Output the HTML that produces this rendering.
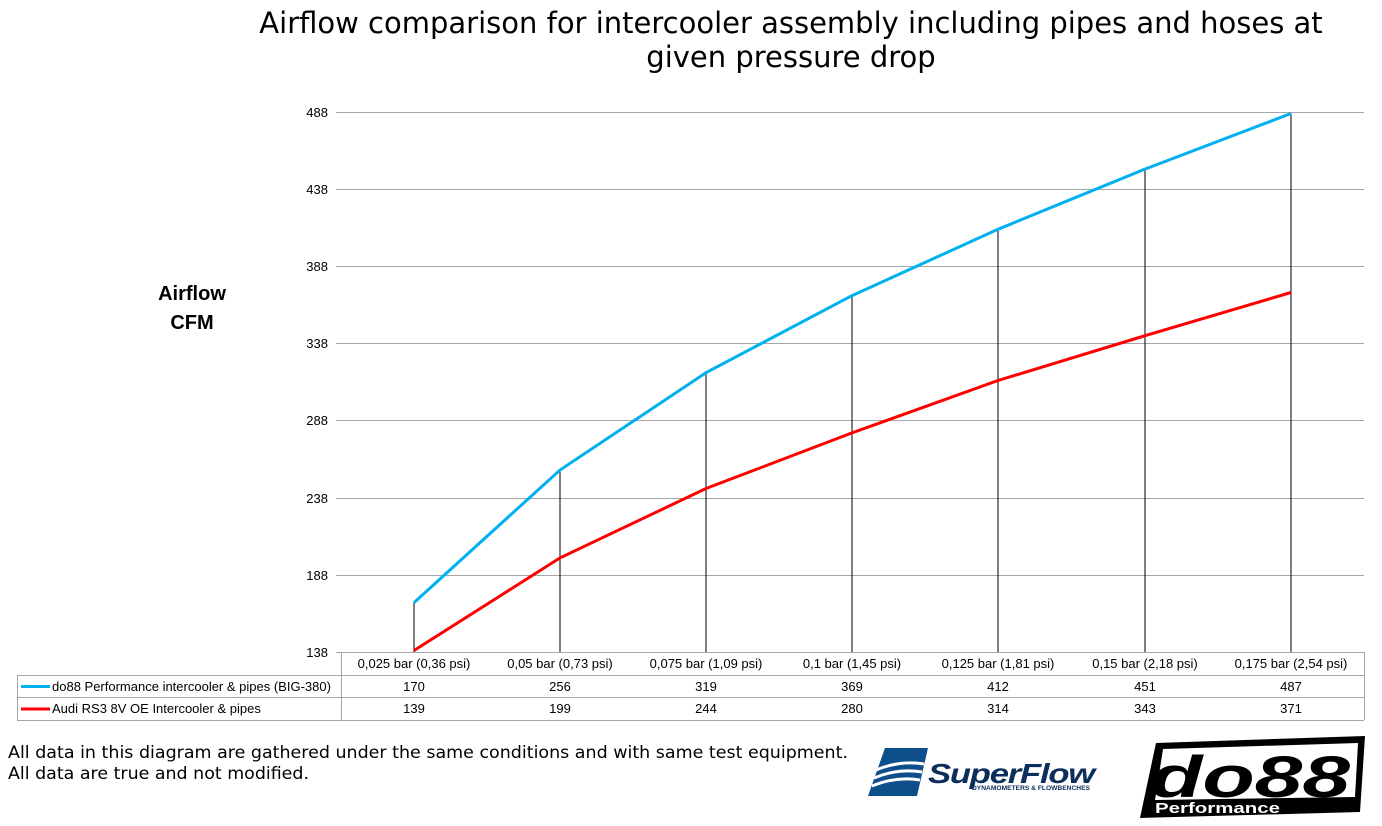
<!DOCTYPE html>
<html><head><meta charset="utf-8"><style>body{margin:0;background:#fff}svg{display:block}</style></head><body>
<svg width="1382" height="826" xmlns="http://www.w3.org/2000/svg" font-family="Liberation Sans, DejaVu Sans, sans-serif">
<text x="791" y="33" font-size="29" text-anchor="middle" fill="#000" font-family="DejaVu Sans, sans-serif">Airflow comparison for intercooler assembly including pipes and hoses at</text>
<text x="791" y="67" font-size="29" text-anchor="middle" fill="#000" font-family="DejaVu Sans, sans-serif">given pressure drop</text>
<text x="192" y="300" font-size="20" font-weight="bold" text-anchor="middle">Airflow</text>
<text x="192" y="329" font-size="20" font-weight="bold" text-anchor="middle">CFM</text>
<g stroke="#a6a6a6" stroke-width="1">
<line x1="336" y1="112.5" x2="1364" y2="112.5"/><line x1="336" y1="189.5" x2="1364" y2="189.5"/><line x1="336" y1="266.5" x2="1364" y2="266.5"/><line x1="336" y1="343.5" x2="1364" y2="343.5"/><line x1="336" y1="420.5" x2="1364" y2="420.5"/><line x1="336" y1="498.5" x2="1364" y2="498.5"/><line x1="336" y1="575.5" x2="1364" y2="575.5"/><line x1="336" y1="652.5" x2="1364" y2="652.5"/>
<line x1="341.5" y1="652" x2="341.5" y2="720"/>
<line x1="1364.5" y1="652" x2="1364.5" y2="720"/>
<line x1="17" y1="675.5" x2="1364" y2="675.5"/><line x1="17" y1="697.5" x2="1364" y2="697.5"/><line x1="17" y1="720.5" x2="1364" y2="720.5"/>
<line x1="17.5" y1="675" x2="17.5" y2="720"/>
</g>
<g font-size="13" text-anchor="end" fill="#000">
<text x="328" y="117">488</text><text x="328" y="194">438</text><text x="328" y="271">388</text><text x="328" y="348">338</text><text x="328" y="425">288</text><text x="328" y="503">238</text><text x="328" y="580">188</text><text x="328" y="657">138</text>
</g>
<g stroke="#000" stroke-width="1">
<line x1="414" y1="602.6" x2="414" y2="652"/><line x1="560" y1="470" x2="560" y2="652"/><line x1="706" y1="372.7" x2="706" y2="652"/><line x1="852" y1="295.6" x2="852" y2="652"/><line x1="998" y1="229.3" x2="998" y2="652"/><line x1="1145" y1="169.1" x2="1145" y2="652"/><line x1="1291" y1="113.5" x2="1291" y2="652"/>
</g>
<polyline fill="none" stroke="#00b0f0" stroke-width="3" points="414,602.6 560,470 706,372.7 852,295.6 998,229.3 1145,169.1 1291,113.5"/>
<polyline fill="none" stroke="#ff0000" stroke-width="3" points="414,650.5 560,557.9 706,488.5 852,432.9 998,380.5 1145,335.7 1291,292.5"/>
<g font-size="13" text-anchor="middle" fill="#000">
<text x="414" y="668">0,025 bar (0,36 psi)</text><text x="560" y="668">0,05 bar (0,73 psi)</text><text x="706" y="668">0,075 bar (1,09 psi)</text><text x="852" y="668">0,1 bar (1,45 psi)</text><text x="998" y="668">0,125 bar (1,81 psi)</text><text x="1145" y="668">0,15 bar (2,18 psi)</text><text x="1291" y="668">0,175 bar (2,54 psi)</text>
<text x="414" y="691">170</text><text x="560" y="691">256</text><text x="706" y="691">319</text><text x="852" y="691">369</text><text x="998" y="691">412</text><text x="1145" y="691">451</text><text x="1291" y="691">487</text>
<text x="414" y="713">139</text><text x="560" y="713">199</text><text x="706" y="713">244</text><text x="852" y="713">280</text><text x="998" y="713">314</text><text x="1145" y="713">343</text><text x="1291" y="713">371</text>
</g>
<line x1="21" y1="686.5" x2="50" y2="686.5" stroke="#00b0f0" stroke-width="3"/>
<line x1="21" y1="709" x2="50" y2="709" stroke="#ff0000" stroke-width="3"/>
<text x="52" y="691" font-size="13">do88 Performance intercooler &amp; pipes (BIG-380)</text>
<text x="52" y="713" font-size="13">Audi RS3 8V OE Intercooler &amp; pipes</text>
<text x="8" y="758" font-size="17" font-family="DejaVu Sans, sans-serif" textLength="840" lengthAdjust="spacingAndGlyphs">All data in this diagram are gathered under the same conditions and with same test equipment.</text>
<text x="8" y="779" font-size="17" font-family="DejaVu Sans, sans-serif" textLength="301" lengthAdjust="spacingAndGlyphs">All data are true and not modified.</text>
<path d="M885,748 L928,748 L917,796 L868,796 Z" fill="#0d4f8b"/>
<path d="M876,770 Q900,760 924,764 M874,778 Q898,768 922,772 M872,786 Q896,776 920,780" stroke="#fff" stroke-width="3" fill="none"/>
<text x="928" y="783" font-size="28" font-weight="bold" font-style="italic" fill="#0b2e5a" letter-spacing="-1" textLength="166" lengthAdjust="spacingAndGlyphs">SuperFlow</text>
<text x="972" y="790" font-size="6" font-weight="bold" fill="#0b2e5a" textLength="118" lengthAdjust="spacingAndGlyphs">DYNAMOMETERS &amp; FLOWBENCHES</text>
<path d="M1156,743 L1365,736 L1360,812 L1140,818 Z" fill="#000"/>
<path d="M1163,749 L1358,743 L1355,797 L1155,800 Z" fill="#fff"/>
<text x="1150" y="797" font-size="58" font-weight="bold" font-style="italic" fill="#000" textLength="200" lengthAdjust="spacingAndGlyphs">do88</text>
<text x="1155" y="813" font-size="15" font-weight="bold" fill="#fff" textLength="125" lengthAdjust="spacingAndGlyphs">Performance</text>
</svg>
</body></html>
